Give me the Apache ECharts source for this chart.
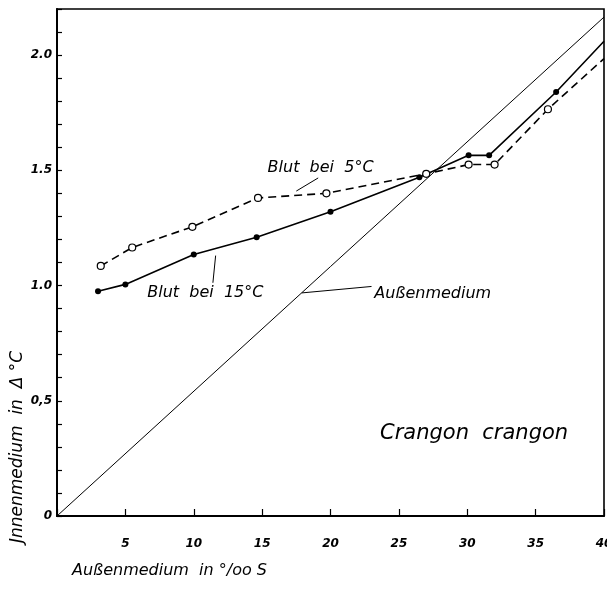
<!DOCTYPE html>
<html>
<head>
<meta charset="utf-8">
<script src="https://cdn.jsdelivr.net/npm/echarts@6/dist/echarts.min.js"></script>
<style>
  html, body { margin: 0; padding: 0; background: #fff; }
  #chart { width: 607px; height: 590px; }
</style>
</head>
<body>
<div id="chart"></div>
<script>
// Salinity of the outer medium (‰ S) and freezing-point depression (Δ °C)
const salinity15 = [3.0, 5.0, 10.0, 14.6, 20.0, 26.5, 30.1, 31.6, 36.5, 40.0];
const blood15    = [0.975, 1.005, 1.135, 1.21, 1.32, 1.47, 1.565, 1.565, 1.84, 2.06];

const salinity5  = [3.2, 5.5, 9.9, 14.7, 19.7, 27.0, 30.1, 32.0, 35.9, 40.0];
const blood5     = [1.085, 1.165, 1.255, 1.38, 1.40, 1.485, 1.525, 1.525, 1.765, 1.985];

const outerSalinity = [0, 40];
const outerDelta    = [0, 2.165];

const xTickValues = [5, 10, 15, 20, 25, 30, 35, 40];
const xTickLabels = ['5', '10', '15', '20', '25', '30', '35', '40'];
const yTickValues = [0, 0.5, 1.0, 1.5, 2.0];
const yTickLabels = ['0', '0,5', '1.0', '1.5', '2.0'];

const FONT = '"DejaVu Sans", sans-serif';

// the final point of each curve only continues the line to the frame
function toPoints(xs, ys) {
  return xs.map((x, i) => i === xs.length - 1
    ? { value: [x, ys[i]], symbol: 'none' }
    : [x, ys[i]]);
}

function lookup(values, labels, v) {
  for (let i = 0; i < values.length; i++) {
    if (Math.abs(values[i] - v) < 1e-6) return labels[i];
  }
  return '';
}

const chart = echarts.init(document.getElementById('chart'), null, { renderer: 'canvas' });

chart.setOption({
  animation: false,
  backgroundColor: '#fff',
  grid: {
    left: 57, right: 3, top: 9, bottom: 74,
    containLabel: false, outerBoundsMode: 'none',
    show: true, borderColor: '#000', borderWidth: 1.6
  },
  xAxis: {
    type: 'value', min: 0, max: 40, interval: 5,
    axisLine: { show: true, onZero: false, lineStyle: { color: '#000', width: 2 } },
    axisTick: { show: true, inside: true, length: 7, lineStyle: { color: '#000', width: 1.2 } },
    splitLine: { show: false },
    axisLabel: {
      margin: 22, color: '#000', fontFamily: FONT, fontStyle: 'italic', fontWeight: 'bold', fontSize: 12,
      showMaxLabel: true,
      formatter: v => lookup(xTickValues, xTickLabels, v)
    }
  },
  yAxis: {
    type: 'value', min: 0, max: 2.2, interval: 0.1,
    axisLine: { show: true, onZero: false, lineStyle: { color: '#000', width: 2 } },
    axisTick: { show: true, inside: true, length: 5, lineStyle: { color: '#000', width: 1.2 } },
    splitLine: { show: false },
    axisLabel: {
      margin: 5, color: '#000', fontFamily: FONT, fontStyle: 'italic', fontWeight: 'bold', fontSize: 12,
      formatter: v => lookup(yTickValues, yTickLabels, v)
    }
  },
  series: [
    {
      name: 'Außenmedium', type: 'line',
      data: outerSalinity.map((x, i) => [x, outerDelta[i]]),
      showSymbol: false, symbol: 'none',
      lineStyle: { color: '#000', width: 1 }, z: 1
    },
    {
      name: 'Blut bei 15°C', type: 'line',
      data: toPoints(salinity15, blood15),
      symbol: 'circle', symbolSize: 6,
      itemStyle: { color: '#000' },
      lineStyle: { color: '#000', width: 1.6 }, z: 2
    },
    {
      name: 'Blut bei 5°C', type: 'line',
      data: toPoints(salinity5, blood5),
      symbol: 'circle', symbolSize: 7,
      itemStyle: { color: '#fff', borderColor: '#000', borderWidth: 1.2 },
      lineStyle: { color: '#000', width: 1.6, type: [8, 5] }, z: 3
    }
  ]
});

// annotations anchored to the data coordinates of the curves
function px(x, y) { return chart.convertToPixel({ gridIndex: 0 }, [x, y]); }

const labelStyle = { fill: '#000', font: 'italic 16px ' + FONT, verticalAlign: 'middle' };

const t5 = px(15.4, 1.51), l5a = px(19.1, 1.467), l5b = px(17.5, 1.41);
const t15 = px(6.6, 0.967), l15a = px(11.6, 1.13), l15b = px(11.4, 1.012);
const tOut = px(23.2, 0.965), lOa = px(17.9, 0.968), lOb = px(23.0, 0.996);

chart.setOption({
  graphic: [
    { type: 'text', x: t5[0], y: t5[1], style: Object.assign({ text: 'Blut  bei  5°C' }, labelStyle) },
    { type: 'line', shape: { x1: l5a[0], y1: l5a[1], x2: l5b[0], y2: l5b[1] }, style: { stroke: '#000', lineWidth: 1 } },
    { type: 'text', x: t15[0], y: t15[1], style: Object.assign({ text: 'Blut  bei  15°C' }, labelStyle) },
    { type: 'line', shape: { x1: l15a[0], y1: l15a[1], x2: l15b[0], y2: l15b[1] }, style: { stroke: '#000', lineWidth: 1 } },
    { type: 'text', x: tOut[0], y: tOut[1], style: Object.assign({ text: 'Außenmedium' }, labelStyle) },
    { type: 'line', shape: { x1: lOa[0], y1: lOa[1], x2: lOb[0], y2: lOb[1] }, style: { stroke: '#000', lineWidth: 1 } },
    { type: 'text', left: 380, top: 423, style: { text: 'Crangon  crangon', fill: '#000', font: 'italic 21px ' + FONT } },
    { type: 'text', left: 72, top: 563, style: { text: 'Außenmedium  in °/oo S', fill: '#000', font: 'italic 16px ' + FONT } },
    { type: 'text', x: 18, y: 447, rotation: Math.PI / 2,
      style: { text: 'Jnnenmedium  in  Δ °C', fill: '#000', font: 'italic 17px ' + FONT, align: 'center', verticalAlign: 'middle' } }
  ]
});
</script>
</body>
</html>
